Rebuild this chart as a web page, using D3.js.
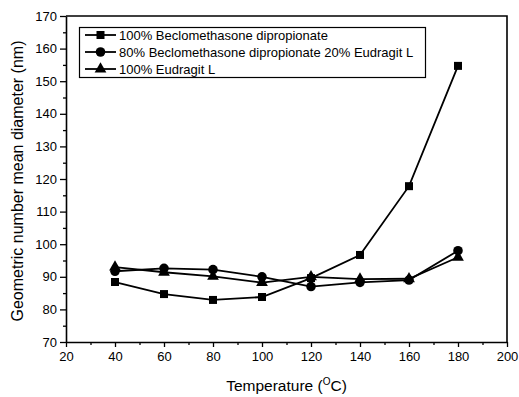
<!DOCTYPE html>
<html>
<head>
<meta charset="utf-8">
<script src="https://cdn.jsdelivr.net/npm/d3@7"></script>
<style>
  body { margin: 0; background: #fff; }
  text { font-family: Arial, "Liberation Sans", sans-serif; fill: #000; }
</style>
</head>
<body>
<div id="chart"></div>
<script>
// Data
var temperatures = [40, 60, 80, 100, 120, 140, 160, 180];
var bdp100 = [88.4, 84.7, 82.9, 83.8, 89.6, 96.7, 117.8, 154.7];
var bdp80eud20 = [91.7, 92.6, 92.2, 90.0, 87.0, 88.3, 89.0, 98.0];
var eud100 = [93.0, 91.4, 90.1, 88.2, 90.0, 89.3, 89.4, 96.0];
var seriesNames = ["100% Beclomethasone dipropionate", "80% Beclomethasone dipropionate 20% Eudragit L", "100% Eudragit L"];
var xTicks = [20, 40, 60, 80, 100, 120, 140, 160, 180, 200];
var yTicks = [70, 80, 90, 100, 110, 120, 130, 140, 150, 160, 170];

var width = 519, height = 397;
var margin = {top: 16, right: 12, bottom: 55, left: 66};

var svg = d3.select("#chart")
    .append("svg")
    .attr("width", width)
    .attr("height", height);

var x = d3.scaleLinear().domain([20, 200]).range([margin.left, width - margin.right]);
var y = d3.scaleLinear().domain([70, 170]).range([height - margin.bottom, margin.top]);

// minor ticks
var xMinor = d3.range(30, 200, 20);
var yMinor = d3.range(75, 170, 10);

// X axis
svg.append("g")
    .attr("transform", "translate(0," + y(70) + ")")
    .call(d3.axisBottom(x).tickValues(xMinor).tickSize(3).tickFormat(""))
    .call(g => g.select(".domain").remove())
    .selectAll("line").attr("stroke-width", 1.3);

svg.append("g")
    .attr("transform", "translate(0," + y(70) + ")")
    .call(d3.axisBottom(x).tickValues(xTicks).tickSize(5).tickPadding(5).tickSizeOuter(0))
    .call(g => g.select(".domain").attr("stroke-width", 1.6))
    .call(g => g.selectAll("line").attr("stroke-width", 1.3))
    .call(g => g.selectAll("text").attr("font-size", "13px").attr("font-family", "Arial, 'Liberation Sans', sans-serif"));

// Y axis
svg.append("g")
    .attr("transform", "translate(" + x(20) + ",0)")
    .call(d3.axisLeft(y).tickValues(yMinor).tickSize(3).tickFormat(""))
    .call(g => g.select(".domain").remove())
    .selectAll("line").attr("stroke-width", 1.3);

svg.append("g")
    .attr("transform", "translate(" + x(20) + ",0)")
    .call(d3.axisLeft(y).tickValues(yTicks).tickSize(6).tickPadding(3).tickSizeOuter(0))
    .call(g => g.select(".domain").attr("stroke-width", 1.6))
    .call(g => g.selectAll("line").attr("stroke-width", 1.3))
    .call(g => g.selectAll("text").attr("font-size", "13px").attr("font-family", "Arial, 'Liberation Sans', sans-serif"));

// top and right frame
svg.append("path")
    .attr("d", "M" + x(20) + "," + y(170) + "H" + x(200) + "V" + y(70))
    .attr("fill", "none")
    .attr("stroke", "#000")
    .attr("stroke-width", 1.6);

// axis titles
var xt = svg.append("text")
    .attr("x", (x(20) + x(200)) / 2)
    .attr("y", 391)
    .attr("text-anchor", "middle")
    .attr("font-size", "15.5px");
xt.append("tspan").text("Temperature (");
xt.append("tspan").attr("dy", -6).attr("font-size", "10px").text("O");
xt.append("tspan").attr("dy", 6).text("C)");

svg.append("text")
    .attr("transform", "rotate(-90)")
    .attr("x", -181)
    .attr("y", 23)
    .attr("text-anchor", "middle")
    .attr("font-size", "16px")
    .text("Geometric number mean diameter (nm)");

// lines and markers
var series = [
    {name: seriesNames[0], values: bdp100, symbol: d3.symbolSquare, size: 64},
    {name: seriesNames[1], values: bdp80eud20, symbol: d3.symbolCircle, size: 72},
    {name: seriesNames[2], values: eud100, symbol: d3.symbolTriangle, size: 60}
];

var line = d3.line()
    .x((d, i) => x(temperatures[i]))
    .y(d => y(d));

series.forEach(s => {
    svg.append("path")
        .attr("d", line(s.values))
        .attr("fill", "none")
        .attr("stroke", "#000")
        .attr("stroke-width", 1.8);

    svg.selectAll(null)
        .data(s.values)
        .enter()
        .append("path")
        .attr("transform", (d, i) => "translate(" + x(temperatures[i]) + "," + y(d) + ")")
        .attr("d", d3.symbol().type(s.symbol).size(s.size))
        .attr("fill", "#000");
});

// legend
var legend = svg.append("g");
legend.append("rect")
    .attr("x", 79.5)
    .attr("y", 27.5)
    .attr("width", 346)
    .attr("height", 50)
    .attr("fill", "#fff")
    .attr("stroke", "#000")
    .attr("stroke-width", 1.2);

series.forEach((s, i) => {
    var ly = 35 + i * 17;
    legend.append("line")
        .attr("x1", 85).attr("x2", 116)
        .attr("y1", ly).attr("y2", ly)
        .attr("stroke", "#000")
        .attr("stroke-width", 1.8);
    legend.append("path")
        .attr("transform", "translate(100.5," + ly + ")")
        .attr("d", d3.symbol().type(s.symbol).size(s.size))
        .attr("fill", "#000");
    legend.append("text")
        .attr("x", 119)
        .attr("y", ly + 4.5)
        .attr("font-size", "13px")
        .text(s.name);
});
</script>
</body>
</html>
